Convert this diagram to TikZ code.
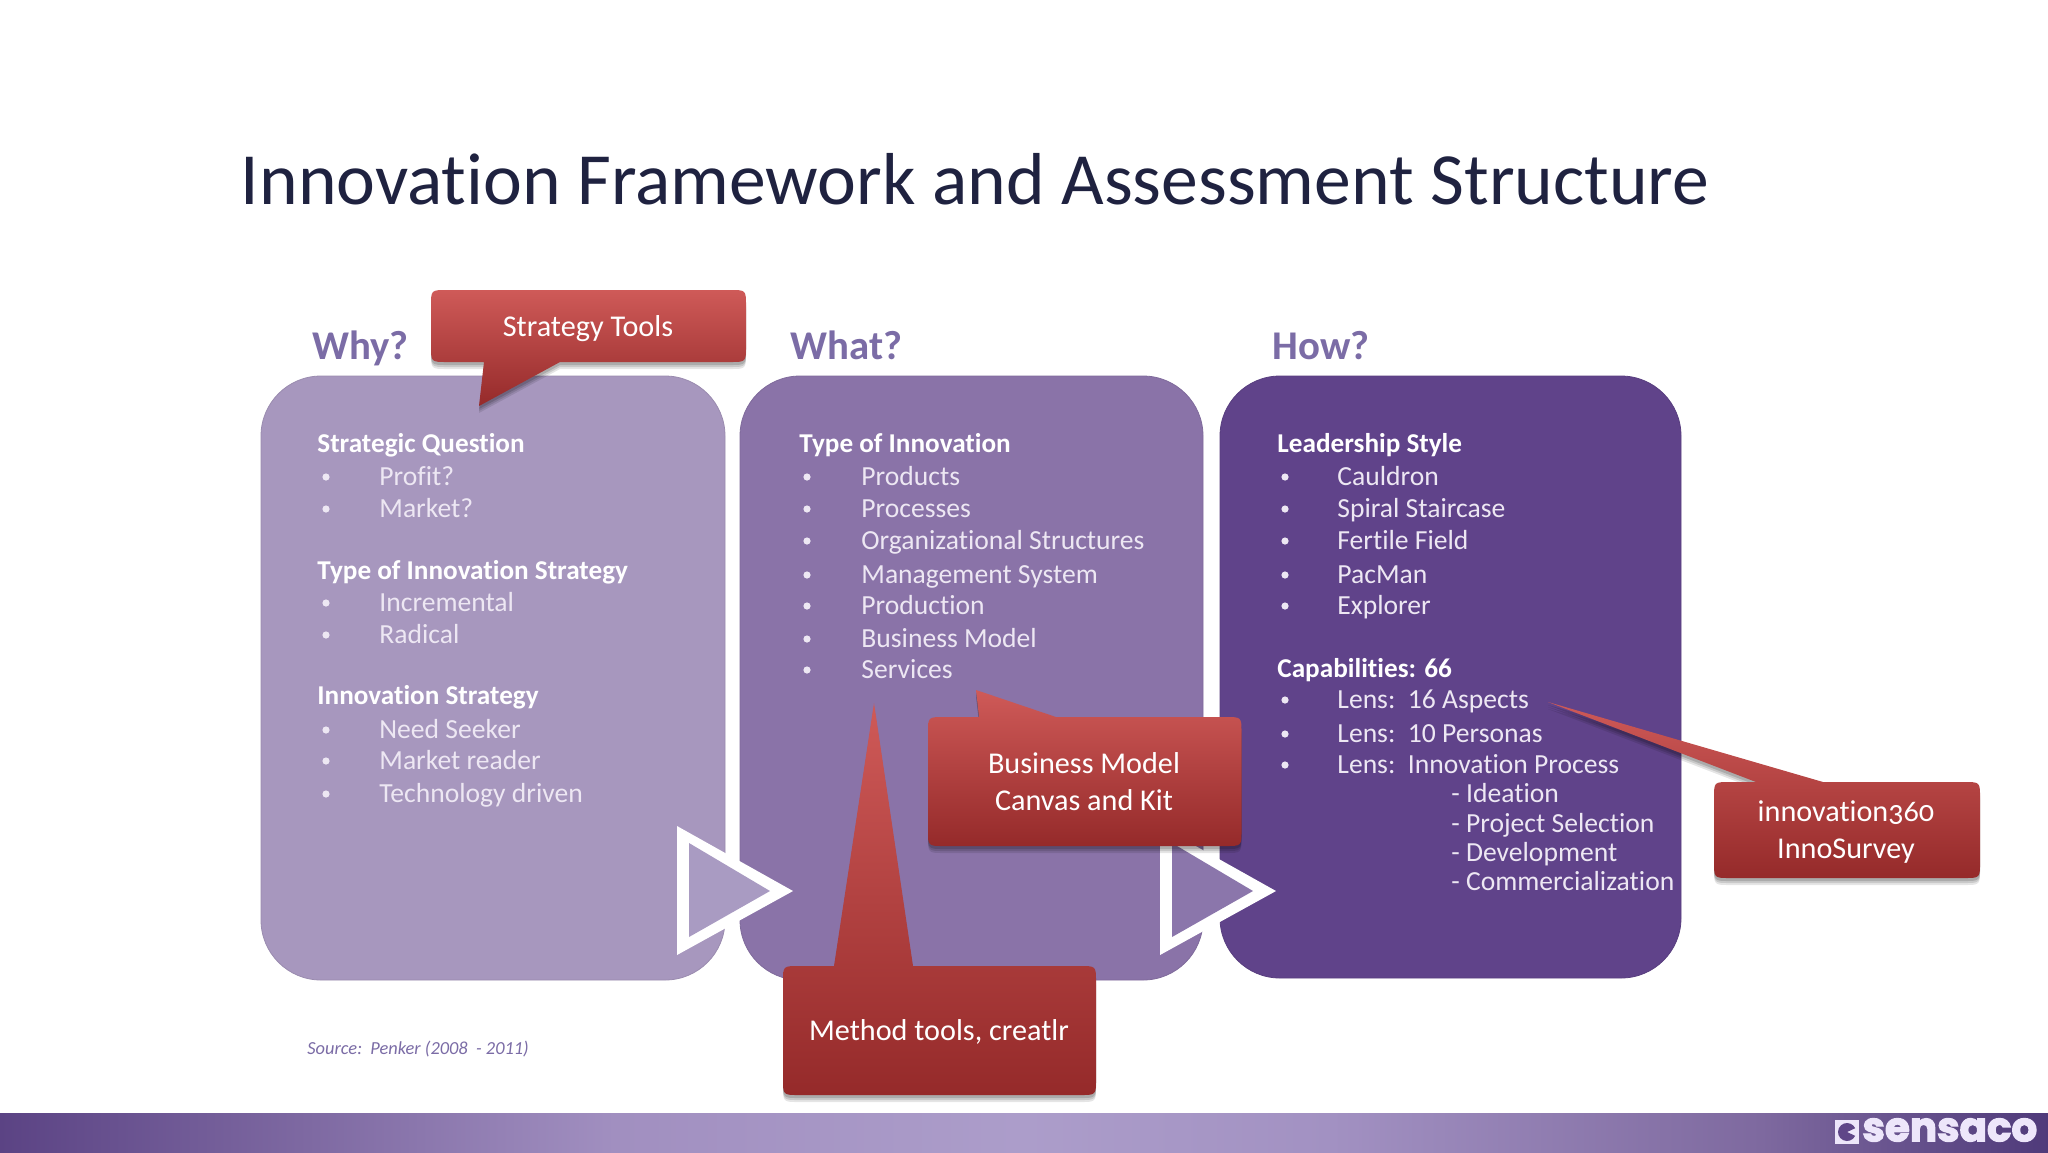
\documentclass[tikz,border=0pt]{standalone}
\usepackage{fontspec}
\setmainfont[Ligatures=NoCommon]{Carlito}
\newfontfamily\oldnum[Numbers=OldStyle,Ligatures=NoCommon]{Carlito}
\newfontfamily\logofont[BoldFeatures={FakeBold=3}]{Poppins}
\usetikzlibrary{shadows}
\definecolor{panelA}{HTML}{A797BE}
\definecolor{panelB}{HTML}{8A73A8}
\definecolor{panelC}{HTML}{60438A}
\definecolor{headcol}{HTML}{7B6CA6}
\definecolor{titlecol}{HTML}{1F2240}
\definecolor{redtop}{HTML}{CF5A58}
\definecolor{redmid}{HTML}{B03838}
\definecolor{redbot}{HTML}{952A2A}
\definecolor{itemA}{HTML}{EDE7F3}
\definecolor{footL}{HTML}{5B4384}
\definecolor{footA}{HTML}{A18FC0}
\definecolor{footM}{HTML}{AC9DCA}
\definecolor{footB}{HTML}{A291C2}
\definecolor{footC}{HTML}{7E699F}
\definecolor{footR}{HTML}{4F3A7A}
\definecolor{triA}{HTML}{A99BC2}
\definecolor{triB}{HTML}{8B76AB}
\definecolor{logoc}{HTML}{EDE6FA}
\definecolor{pacc}{HTML}{5F4688}
\pgfdeclarehorizontalshading{footshade}{100bp}{color(0bp)=(footL);color(25bp)=(footL);color(40bp)=(footA);color(50bp)=(footM);color(57.5bp)=(footB);color(68bp)=(footC);color(75bp)=(footR);color(100bp)=(footR)}
\tikzset{
  panel/.style={rectangle,rounded corners=30pt,inner sep=0pt,draw=#1!92!black,line width=.4pt,fill=#1},
  head/.style={anchor=base west,font=\fontsize{20.4}{20.4}\selectfont\bfseries,text=headcol,inner sep=0pt},
  hdg/.style={anchor=base west,font=\fontsize{13.6}{13.6}\selectfont\bfseries,text=white,inner sep=0pt},
  itm/.style={anchor=base west,font=\fontsize{13.8}{13.8}\selectfont,text=itemA,inner sep=0pt},
  bul/.style={circle,fill=itemA,inner sep=0pt,minimum size=3.6pt},
  tri/.style={fill=white},
  calltext/.style={align=center,font=\fontsize{15.1}{18.5}\selectfont,text=white,inner sep=0pt},
  redshape/.style={top color=redtop,middle color=redmid,bottom color=redbot,
    general shadow={shadow yshift=-3.5pt,fill=black,opacity=.1},
    general shadow={shadow yshift=-2.5pt,fill=black,opacity=.12},
    general shadow={shadow yshift=-1.5pt,fill=black,opacity=.15}}
}
\newcommand{\hd}[4]{\node[hdg] (#1) at (#2,{#3+8}) {#4};}
\newcommand{\li}[5]{\node[bul] (#1b) at (#2,#4) {};\node[itm] (#1) at (#3,{#4+8}) {#5};}
\newcommand{\subi}[4]{\node[itm] (#1) at (#2,{#3+8}) {#4};}
% ybase bx1 tipx tipy bx2 yother x1 x2
\newcommand{\callout}[8]{%
  \pgfmathsetmacro{\rr}{(#6>#1)?16:-16}
  \path[redshape] (#2,#1) -- (#3,#4) -- (#5,#1)
    -- ({#8-16},#1) .. controls (#8,#1) .. (#8,{#1+\rr})
    -- (#8,{#6-\rr}) .. controls (#8,#6) .. ({#8-16},#6)
    -- ({#7+16},#6) .. controls (#7,#6) .. (#7,{#6-\rr})
    -- (#7,{#1+\rr}) .. controls (#7,#1) .. ({#7+16},#1) -- cycle;
}
\begin{document}
\begin{tikzpicture}[x=.5pt,y=-.5pt]
\useasboundingbox (0,0) rectangle (2048,1152);
\fill[white] (0,0) rectangle (2048,1152);
% footer
\path[shading=footshade] (0,1113) rectangle (2048,1152);
\node[anchor=center,inner sep=0pt,font=\fontsize{36.8}{36.8}\selectfont,text=titlecol] (title) at (975,179) {Innovation Framework and Assessment Structure};
% headings
\node[head] (why) at (312,359) {Why?};
\node[head] (what) at (790,359) {What?};
\node[head] (how) at (1272,359) {How?};
% panels
\node[panel=panelA,minimum width=232pt,minimum height=302pt] (p1) at (493,678) {};
\node[panel=panelB,minimum width=231.5pt,minimum height=302pt] (p2) at (971.5,678) {};
\node[panel=panelC,minimum width=230.5pt,minimum height=301pt] (p3) at (1450.5,677) {};
% panel 1
\hd{a1}{317}{444}{Strategic Question}
\li{a2}{326}{379}{477}{Profit?}
\li{a3}{326}{379}{509}{Market?}
\hd{a4}{317}{571}{Type of Innovation Strategy}
\li{a5}{326}{379}{603}{Incremental}
\li{a6}{326}{379}{635}{Radical}
\hd{a7}{317}{696}{Innovation Strategy}
\li{a8}{326}{379}{730}{Need Seeker}
\li{a9}{326}{379}{761}{Market reader}
\li{a10}{326}{379}{794}{Technology driven}
% panel 2
\hd{b1}{799}{444}{Type of Innovation}
\li{b2}{807}{861}{477}{Products}
\li{b3}{807}{861}{509}{Processes}
\li{b4}{807}{861}{541}{Organizational Structures}
\li{b5}{807}{861}{575}{Management System}
\li{b6}{807}{861}{606}{Production}
\li{b7}{807}{861}{639}{Business Model}
\li{b8}{807}{861}{670}{Services}
% panel 3
\hd{c1}{1277}{444}{Leadership Style}
\li{c2}{1285}{1337}{477}{Cauldron}
\li{c3}{1285}{1337}{509}{Spiral Staircase}
\li{c4}{1285}{1337}{541}{Fertile Field}
\li{c5}{1285}{1337}{575}{PacMan}
\li{c6}{1285}{1337}{606}{Explorer}
\hd{c7}{1277}{669}{Capabilities: 66}
\li{c8}{1285}{1337}{700}{Lens:\ \ 16 Aspects}
\li{c9}{1285}{1337}{734}{Lens:\ \ 10 Personas}
\li{c10}{1285}{1337}{765}{Lens:\ \ Innovation Process}
\subi{c11}{1451}{794}{- Ideation}
\subi{c12}{1451}{824}{- Project Selection}
\subi{c13}{1451}{853}{- Development}
\subi{c14}{1451}{882}{- Commercialization}
% triangles
\fill[tri] (677,826) -- (793,891) -- (677,955) -- cycle;
\fill[triA] (689,843) -- (770,891) -- (689,937) -- cycle;
\fill[tri] (1160,826) -- (1276,891) -- (1160,955) -- cycle;
\fill[triB] (1172,843) -- (1253,891) -- (1172,937) -- cycle;
% callouts
\callout{362}{484}{479}{406}{560}{290}{431}{746}
\node[calltext] (s) at (588,329) {Strategy Tools};
\callout{717}{979}{976}{690}{1056}{846}{928}{1241.5}
\node[calltext] (bm) at (1084,782) {Business Model\\Canvas and Kit};
\callout{966}{834}{874}{703}{913}{1095}{783}{1096}
\node[calltext] (m) at (939,1032) {Method tools, creatlr};
\callout{782}{1756}{1548}{702}{1823}{878}{1714}{1980}
\node[calltext,font=\fontsize{15.1}{18.5}\selectfont\oldnum] (i) at (1846,832) {innovation360\\InnoSurvey};
% source
\node[anchor=west,inner sep=0pt,font=\fontsize{9.2}{9.2}\selectfont\itshape,text=headcol] (src) at (307,1049) {Source:\ \ Penker (2008 \ - 2011)};
% logo
\fill[logoc] (1835,1120) rectangle (1859,1144);
\fill[pacc] (1847,1132) -- ++(25:9) arc[start angle=25,end angle=335,radius=9] -- cycle;
\node[anchor=west,inner sep=0pt,font=\fontsize{20.2}{20.2}\selectfont\logofont\bfseries,text=logoc] (logo) at (1862,1130) {sensaco};
\end{tikzpicture}
\end{document}
